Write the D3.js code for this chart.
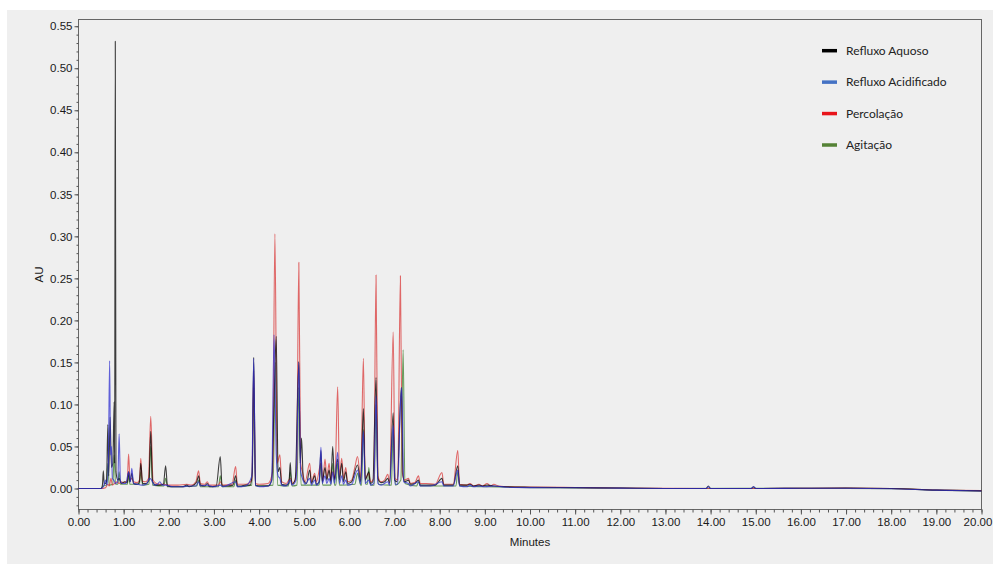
<!DOCTYPE html>
<html lang="en">
<head>
<meta charset="UTF-8">
<title>Cromatograma</title>
<script src="https://d3js.org/d3.v7.min.js"></script>
<style>
  body { margin: 0; background: #fff; }
  svg { display: block; }
  .tick text { font-family: "Liberation Sans", Arial, sans-serif; font-size: 11.5px; fill: #1a1a1a; }
  .tick line { stroke: #555; }
  .axis path.domain { stroke: #555; }
  .axis-title { font-family: "Liberation Sans", Arial, sans-serif; font-size: 11.5px; fill: #1a1a1a; }
  .legend text { font-family: Lato, "Open Sans", sans-serif; font-size: 12px; fill: #222; }
  .trace { fill: none; stroke-width: 1.1; stroke-opacity: 0.75; stroke-linejoin: round; }
</style>
</head>
<body>
<svg id="chart"></svg>
<script>
// ticks
const xTicks = d3.range(0, 21, 1);
const yTicks = [0, 0.05, 0.10, 0.15, 0.20, 0.25, 0.30, 0.35, 0.40, 0.45, 0.50, 0.55];

// legend
const seriesNames = ["Refluxo Aquoso", "Refluxo Acidificado", "Percolação", "Agitação"];
const legendColors = ["#000000", "#4472c4", "#e8141a", "#548235"];
const traceColors = ["#000000", "#2f2fd0", "#d93a3a", "#3a7d2a"];

// [minutes, AU]
const aquoso = [
  [0,0],[0.50,0],[0.53,0.004],[0.55,0.021],[0.57,0.005],[0.62,0.008],[0.65,0.076],[0.67,0.015],[0.70,0.085],
  [0.73,0.025],[0.76,0.03],[0.79,0.103],[0.80,0.03],[0.815,0.532],[0.83,0.02],[0.87,0.01],[0.90,0.012],
  [0.95,0.006],[1.02,0.008],[1.08,0.007],[1.11,0.02],[1.14,0.008],[1.18,0.018],[1.22,0.006],[1.30,0.005],
  [1.35,0.008],[1.38,0.03],[1.42,0.006],[1.50,0.006],[1.56,0.01],[1.60,0.068],[1.64,0.008],[1.72,0.004],
  [1.80,0.004],[1.88,0.005],[1.93,0.027],[1.97,0.003],[2.10,0.002],[2.30,0.002],[2.40,0.004],[2.45,0.002],
  [2.55,0.004],[2.62,0.008],[2.66,0.015],[2.70,0.004],[2.80,0.003],[2.85,0.006],[2.90,0.002],[3.05,0.003],
  [3.14,0.038],[3.18,0.003],[3.30,0.003],[3.42,0.004],[3.48,0.015],[3.52,0.003],[3.60,0.003],[3.70,0.004],
  [3.80,0.004],[3.85,0.02],[3.88,0.156],[3.92,0.004],[4.00,0.003],[4.10,0.003],[4.20,0.003],[4.28,0.01],
  [4.33,0.10],[4.38,0.181],[4.42,0.02],[4.46,0.025],[4.50,0.005],[4.60,0.004],[4.66,0.006],[4.69,0.031],
  [4.72,0.005],[4.80,0.01],[4.88,0.151],[4.91,0.03],[4.94,0.06],[4.98,0.01],[5.05,0.006],[5.12,0.022],
  [5.16,0.006],[5.23,0.015],[5.27,0.005],[5.33,0.008],[5.37,0.045],[5.40,0.008],[5.46,0.025],[5.50,0.01],
  [5.55,0.022],[5.59,0.008],[5.63,0.05],[5.67,0.01],[5.74,0.035],[5.78,0.01],[5.83,0.03],[5.87,0.008],
  [5.92,0.02],[5.96,0.006],[6.05,0.008],[6.18,0.028],[6.25,0.008],[6.31,0.095],[6.35,0.01],[6.43,0.02],
  [6.46,0.006],[6.52,0.008],[6.59,0.132],[6.63,0.012],[6.70,0.007],[6.78,0.008],[6.85,0.012],[6.89,0.006],
  [6.97,0.09],[7.00,0.01],[7.06,0.008],[7.15,0.12],[7.19,0.015],[7.22,0.008],[7.31,0.01],[7.35,0.005],
  [7.45,0.006],[7.53,0.01],[7.57,0.004],[7.70,0.004],[7.90,0.004],[8.05,0.012],[8.09,0.004],[8.30,0.004],
  [8.40,0.027],[8.44,0.004],[8.60,0.004],[8.67,0.005],[8.75,0.003],[8.87,0.004],[8.95,0.003],[9.05,0.004],
  [9.20,0.003],[9.50,0.002],[10,0.0015],[11,0.001],[12,0.0005],[13,0],[13.9,0],[13.95,0.003],[14.0,0],
  [14.9,0],[14.95,0.002],[15.0,0],[16,0.0003],[17,0.0005],[18,0],[19,-0.002],[20,-0.0028]
];

const acidificado = [
  [0,0],[0.50,0],[0.55,0.002],[0.60,0.01],[0.63,0.004],[0.66,0.03],[0.69,0.152],[0.71,0.04],[0.73,0.05],
  [0.75,0.012],[0.78,0.01],[0.82,0.006],[0.87,0.008],[0.90,0.065],[0.93,0.008],[0.98,0.006],[1.05,0.006],
  [1.11,0.02],[1.15,0.008],[1.18,0.024],[1.22,0.006],[1.30,0.005],[1.40,0.004],[1.50,0.005],[1.58,0.012],
  [1.62,0.01],[1.68,0.004],[1.75,0.005],[1.80,0.008],[1.86,0.004],[1.93,0.004],[2.10,0.002],[2.30,0.002],
  [2.45,0.003],[2.60,0.003],[2.66,0.008],[2.70,0.003],[2.85,0.004],[3.00,0.002],[3.14,0.004],[3.20,0.002],
  [3.48,0.008],[3.52,0.002],[3.70,0.003],[3.84,0.015],[3.88,0.155],[3.92,0.004],[4.00,0.002],[4.20,0.003],
  [4.28,0.01],[4.33,0.183],[4.38,0.04],[4.42,0.015],[4.46,0.012],[4.50,0.004],[4.60,0.003],[4.69,0.01],
  [4.73,0.004],[4.82,0.01],[4.88,0.15],[4.92,0.02],[4.96,0.012],[5.02,0.005],[5.12,0.012],[5.16,0.004],
  [5.23,0.01],[5.27,0.004],[5.33,0.008],[5.37,0.049],[5.40,0.006],[5.46,0.015],[5.50,0.006],[5.55,0.012],
  [5.59,0.005],[5.63,0.02],[5.67,0.006],[5.74,0.043],[5.78,0.006],[5.83,0.015],[5.87,0.005],[5.92,0.01],
  [5.96,0.004],[6.05,0.005],[6.18,0.022],[6.25,0.005],[6.31,0.068],[6.35,0.006],[6.43,0.01],[6.47,0.004],
  [6.54,0.006],[6.59,0.11],[6.63,0.006],[6.70,0.004],[6.85,0.008],[6.89,0.004],[6.97,0.075],[7.01,0.005],
  [7.07,0.005],[7.13,0.10],[7.16,0.12],[7.20,0.008],[7.31,0.006],[7.35,0.003],[7.53,0.008],[7.57,0.003],
  [7.80,0.003],[8.05,0.008],[8.09,0.003],[8.30,0.003],[8.40,0.022],[8.44,0.003],[8.60,0.002],[8.67,0.004],
  [8.75,0.002],[8.87,0.003],[9.00,0.002],[9.20,0.003],[9.50,0.0015],[10,0.001],[11,0.0008],[12,0.0004],
  [13,0],[13.9,0],[13.95,0.002],[14.0,0],[14.9,0],[14.95,0.002],[15.0,0],[16,0.0002],[17,0.0003],
  [18,-0.0003],[19,-0.002],[20,-0.003]
];

const percolacao = [
  [0,0],[0.50,0],[0.60,0.001],[0.65,0.005],[0.68,0.003],[0.72,0.012],[0.75,0.004],[0.80,0.006],[0.85,0.008],
  [0.90,0.006],[0.95,0.008],[1.00,0.007],[1.05,0.008],[1.08,0.01],[1.11,0.041],[1.14,0.01],[1.18,0.012],
  [1.22,0.008],[1.30,0.007],[1.35,0.01],[1.38,0.036],[1.41,0.009],[1.48,0.008],[1.55,0.012],[1.60,0.086],
  [1.65,0.01],[1.72,0.006],[1.80,0.005],[1.90,0.005],[2.00,0.004],[2.20,0.004],[2.40,0.005],[2.50,0.004],
  [2.60,0.008],[2.66,0.021],[2.70,0.006],[2.80,0.005],[2.85,0.008],[2.90,0.004],[3.10,0.004],[3.14,0.008],
  [3.20,0.004],[3.40,0.005],[3.48,0.026],[3.52,0.005],[3.70,0.005],[3.84,0.01],[3.88,0.14],[3.92,0.006],
  [4.00,0.005],[4.20,0.006],[4.30,0.02],[4.35,0.303],[4.40,0.03],[4.46,0.040],[4.50,0.008],[4.60,0.006],
  [4.69,0.012],[4.75,0.006],[4.83,0.02],[4.88,0.269],[4.92,0.03],[4.96,0.02],[5.02,0.008],[5.12,0.030],
  [5.16,0.008],[5.23,0.018],[5.27,0.008],[5.37,0.03],[5.41,0.009],[5.46,0.035],[5.50,0.012],[5.55,0.030],
  [5.59,0.01],[5.63,0.02],[5.68,0.012],[5.74,0.121],[5.78,0.014],[5.83,0.036],[5.87,0.012],[5.92,0.025],
  [5.96,0.008],[6.05,0.01],[6.12,0.025],[6.18,0.038],[6.25,0.012],[6.31,0.155],[6.35,0.012],[6.43,0.018],
  [6.47,0.008],[6.54,0.012],[6.59,0.254],[6.63,0.015],[6.70,0.008],[6.78,0.01],[6.85,0.017],[6.89,0.008],
  [6.97,0.186],[7.01,0.012],[7.07,0.01],[7.13,0.253],[7.17,0.02],[7.22,0.01],[7.31,0.012],[7.35,0.006],
  [7.45,0.007],[7.53,0.015],[7.57,0.006],[7.70,0.006],[7.90,0.005],[8.05,0.019],[8.09,0.005],[8.30,0.005],
  [8.40,0.045],[8.44,0.005],[8.60,0.004],[8.67,0.006],[8.75,0.003],[8.87,0.005],[8.95,0.003],[9.05,0.006],
  [9.12,0.003],[9.20,0.005],[9.30,0.003],[9.60,0.002],[10,0.0018],[11,0.0012],[12,0.0006],[13,0.0002],
  [14,0],[15,0],[16,0.0003],[17,0.0005],[18,0],[19,-0.0018],[20,-0.0026]
];

// mostly hidden under the other traces
const agitacao = [
  [0,0],[0.50,0],[0.55,0.003],[0.62,0.004],[0.65,0.03],[0.68,0.004],[0.76,0.005],[0.79,0.04],[0.82,0.005],
  [0.87,0.005],[0.90,0.02],[0.93,0.005],[1.08,0.005],[1.11,0.015],[1.14,0.005],[1.35,0.005],[1.38,0.02],
  [1.42,0.004],[1.56,0.005],[1.60,0.05],[1.64,0.004],[1.89,0.003],[1.93,0.012],[1.97,0.002],[2.62,0.003],
  [2.66,0.01],[2.70,0.002],[3.10,0.002],[3.14,0.015],[3.18,0.002],[3.44,0.002],[3.48,0.01],[3.52,0.002],
  [3.84,0.004],[3.88,0.12],[3.92,0.003],[4.31,0.004],[4.36,0.15],[4.41,0.004],[4.65,0.003],[4.69,0.02],
  [4.73,0.003],[4.84,0.004],[4.88,0.12],[4.93,0.004],[5.33,0.004],[5.37,0.03],[5.41,0.004],[5.59,0.004],
  [5.63,0.03],[5.67,0.004],[5.70,0.004],[5.74,0.03],[5.78,0.004],[6.12,0.005],[6.18,0.018],[6.25,0.004],
  [6.27,0.004],[6.31,0.07],[6.36,0.005],[6.40,0.005],[6.43,0.025],[6.47,0.004],[6.55,0.004],[6.59,0.10],
  [6.64,0.005],[6.93,0.004],[6.97,0.07],[7.02,0.004],[7.14,0.01],[7.19,0.165],[7.23,0.006],[7.49,0.003],
  [7.53,0.008],[7.57,0.003],[8.36,0.003],[8.40,0.02],[8.44,0.003],[9.00,0.002],[10,0.001],[12,0.0004],
  [13,0],[16,0.0002],[18,-0.0002],[19,-0.002],[20,-0.0028]
];

const series = [aquoso, acidificado, percolacao, agitacao];
const drawOrder = [3, 2, 0, 1];

const W = 993, H = 564;
const svg = d3.select("#chart").attr("width", W).attr("height", H);

// grey panel behind the chart
svg.append("rect").attr("x", 7).attr("y", 10).attr("width", W - 7).attr("height", H - 10).attr("fill", "#efefef");

const plotLeft = 78.5, plotRight = 981.5, plotTop = 19.5, plotBottom = 509.5;

const x = d3.scaleLinear().domain([0, 20]).range([plotLeft, plotRight]);
const y = d3.scaleLinear().domain([-0.025, 0.558]).range([plotBottom, plotTop]);

// frame
svg.append("rect")
  .attr("x", plotLeft).attr("y", plotTop)
  .attr("width", plotRight - plotLeft).attr("height", plotBottom - plotTop)
  .attr("fill", "none").attr("stroke", "#666").attr("stroke-width", 1);

// minor ticks
svg.append("g").attr("class", "axis").attr("transform", `translate(0,${plotBottom})`)
  .call(d3.axisBottom(x).tickValues(d3.range(0, 100.5, 1).map(d => d / 5)).tickSize(3).tickFormat(""))
  .call(g => g.select(".domain").remove());
svg.append("g").attr("class", "axis").attr("transform", `translate(${plotLeft},0)`)
  .call(d3.axisLeft(y).tickValues(d3.range(-2, 56, 1).map(d => d / 100)).tickSize(2).tickFormat(""))
  .call(g => g.select(".domain").remove());

// major ticks
svg.append("g").attr("class", "axis").attr("transform", `translate(0,${plotBottom})`)
  .call(d3.axisBottom(x).tickValues(xTicks).tickSize(5).tickPadding(3).tickFormat(d3.format(".2f")))
  .call(g => g.select(".domain").remove())
  .call(g => g.selectAll(".tick text").filter(d => d === 20).attr("dx", -4));
svg.append("g").attr("class", "axis").attr("transform", `translate(${plotLeft},0)`)
  .call(d3.axisLeft(y).tickValues(yTicks).tickSize(4).tickPadding(2).tickFormat(d3.format(".2f")))
  .call(g => g.select(".domain").remove());

// axis titles
svg.append("text").attr("class", "axis-title")
  .attr("x", (plotLeft + plotRight) / 2).attr("y", 546).attr("text-anchor", "middle").text("Minutes");
svg.append("text").attr("class", "axis-title")
  .attr("transform", `translate(43,${(plotTop + plotBottom) / 2 + 10}) rotate(-90)`)
  .attr("text-anchor", "middle").text("AU");

// traces
const line = d3.line().x(d => x(d[0])).y(d => y(d[1])).curve(d3.curveMonotoneX);
const plot = svg.append("g");
drawOrder.forEach(i => {
  plot.append("path").attr("class", "trace")
    .attr("d", line(series[i]))
    .attr("stroke", traceColors[i]);
});

// legend
const legend = svg.append("g").attr("class", "legend");
const rowY = d3.scaleLinear().domain([0, 3]).range([50.7, 145]);
seriesNames.forEach((name, i) => {
  legend.append("line")
    .attr("x1", 822).attr("x2", 837)
    .attr("y1", rowY(i)).attr("y2", rowY(i))
    .attr("stroke", legendColors[i]).attr("stroke-width", 3.5);
  legend.append("text").attr("x", 846).attr("y", rowY(i) + 4).text(name);
});
</script>
</body>
</html>
